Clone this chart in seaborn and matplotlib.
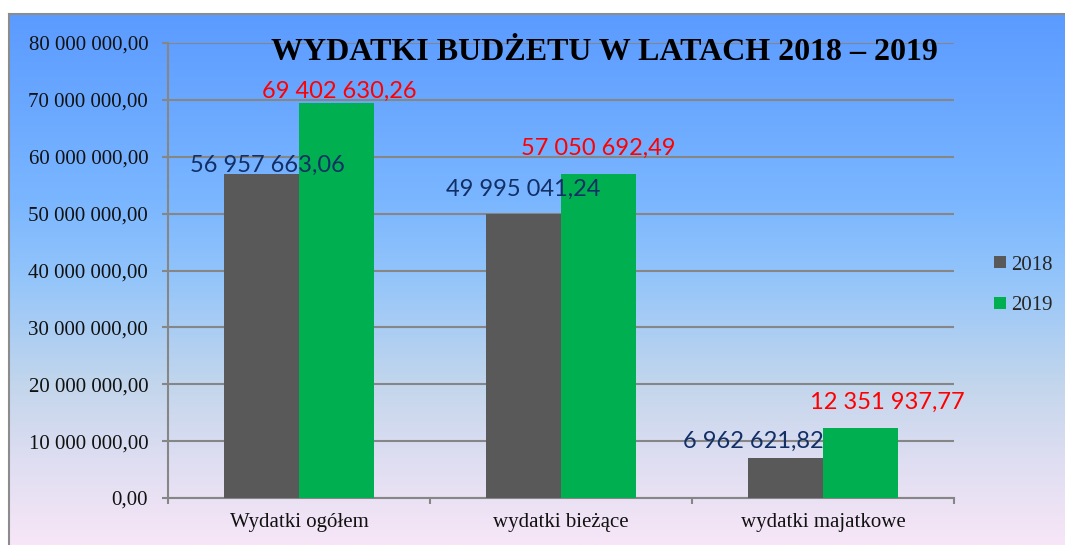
import numpy as np
import pandas as pd
import matplotlib
matplotlib.use("Agg")
import matplotlib.pyplot as plt
import seaborn as sns
from matplotlib.colors import LinearSegmentedColormap
from matplotlib.lines import Line2D
from matplotlib.ticker import FuncFormatter, FixedLocator

# ---------------- data ----------------
categories = ["Wydatki ogółem", "wydatki bieżące", "wydatki majatkowe"]
years = ["2018", "2019"]
values_2018 = [56957663.06, 49995041.24, 6962621.82]
values_2019 = [69402630.26, 57050692.49, 12351937.77]
y_ticks = [0, 10e6, 20e6, 30e6, 40e6, 50e6, 60e6, 70e6, 80e6]
title = "WYDATKI BUDŻETU W LATACH 2018 – 2019"

# ---------------- style ----------------
bar_colors = ["#595959", "#00B050"]
label_colors = ["#122F66", "#FF0000"]
# label offsets (pixels) relative to bar top-centre
label_offsets = [
    [(5.5, 2), (0, 18), (-32.5, 11)],
    [(2.5, 5), (0, 19), (27, 19)],
]
grid_col = "#868686"


def pl_fmt(v, pos=None):
    s = f"{v:,.2f}"
    return s.replace(",", " ").replace(".", ",")


sns.set_theme(style="white")
plt.rcParams["font.family"] = ["Liberation Serif", "DejaVu Serif"]

W, H = 1065, 545
fig = plt.figure(figsize=(W / 100, H / 100), dpi=100)
fig.patch.set_facecolor("white")

# background gradient (chart area)
bg = fig.add_axes([9 / W, 0, 1 - 9 / W, (H - 14) / H])
cmap = LinearSegmentedColormap.from_list(
    "bgc",
    [(0.0, "#5B9BFF"), (0.35, "#7AB6FF"), (0.5, "#94C5FA"),
     (0.7, "#C3D6EC"), (0.85, "#E0DEF2"), (1.0, "#F7E6F7")],
)
grad = np.linspace(0, 1, 256).reshape(-1, 1)
bg.imshow(grad, aspect="auto", cmap=cmap, extent=[0, 1, 0, 1], origin="upper")
bg.set_xlim(0, 1)
bg.set_ylim(0, 1)
bg.set_xticks([])
bg.set_yticks([])
for s in ["right", "bottom"]:
    bg.spines[s].set_visible(False)
for s in ["left", "top"]:
    bg.spines[s].set_color("#8C8C8C")
    bg.spines[s].set_linewidth(1.5)

# main axes
ax = fig.add_axes([168 / W, (H - 498) / H, 786 / W, 455 / H])
ax.set_facecolor("none")

df = pd.DataFrame({
    "kategoria": categories * 2,
    "rok": [years[0]] * 3 + [years[1]] * 3,
    "wartosc": values_2018 + values_2019,
})
sns.barplot(data=df, x="kategoria", y="wartosc", hue="rok",
            palette=bar_colors, width=0.5725, gap=0, saturation=1,
            errorbar=None, legend=False, ax=ax, linewidth=0, zorder=3)

ax.set_xlim(-0.5, 2.5)
ax.set_ylim(0, 80e6)
ax.yaxis.set_major_locator(FixedLocator(y_ticks))
ax.yaxis.set_major_formatter(FuncFormatter(pl_fmt))
ax.set_xlabel("")
ax.set_ylabel("")

ax.yaxis.grid(True, color=grid_col, linewidth=1.5, zorder=1)
ax.xaxis.grid(False)
ax.set_axisbelow(True)
for s in ["top", "right"]:
    ax.spines[s].set_visible(False)
for s in ["left", "bottom"]:
    ax.spines[s].set_color(grid_col)
    ax.spines[s].set_linewidth(1.5)

ax.tick_params(axis="y", which="major", direction="out", length=4.3, width=1.5,
               color=grid_col, labelsize=15, pad=10, labelcolor="#111111", left=True)
ax.xaxis.set_minor_locator(FixedLocator([-0.5, 0.5, 1.5, 2.5]))
ax.tick_params(axis="x", which="major", length=0, labelsize=15, pad=11,
               labelcolor="#111111", bottom=True)
ax.tick_params(axis="x", which="minor", direction="out", length=4.3, width=1.5,
               color=grid_col, bottom=True)

# value labels
for ci, cont in enumerate(ax.containers):
    for bi, patch in enumerate(cont):
        x = patch.get_x() + patch.get_width() / 2
        y = patch.get_height()
        dx, dy = label_offsets[ci][bi]
        ax.annotate(pl_fmt(y), xy=(x, y), xytext=(dx, dy),
                    textcoords="offset pixels", ha="center", va="baseline",
                    fontsize=17, color=label_colors[ci], family=["Lato", "DejaVu Sans"],
                    zorder=5, annotation_clip=False)

# title
fig.text(604.5 / W, (H - 60) / H, title, ha="center", va="baseline",
         fontsize=23, fontweight="bold", color="black")

# legend
handles = [Line2D([], [], marker="s", linestyle="", color=c, markersize=8,
                  markeredgewidth=0) for c in bar_colors]
fig.legend(handles, years, loc="center left", bbox_to_anchor=(976 / W, (H - 285) / H),
           frameon=False, fontsize=15, handlelength=0.55, handletextpad=0.24,
           labelspacing=0.99, borderpad=0.4)

fig.savefig("out.png", dpi=100)
